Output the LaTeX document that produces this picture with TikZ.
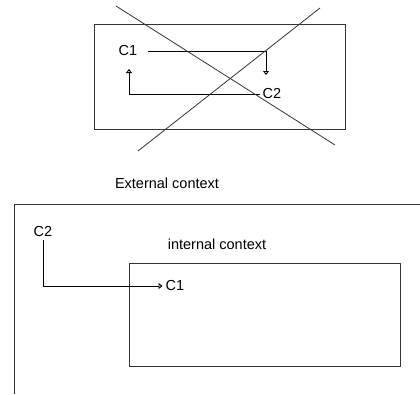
\documentclass[tikz,border=0pt]{standalone}
\usepackage{fontspec}
\setmainfont{Liberation Sans}
\usetikzlibrary{positioning,arrows.meta}

\begin{document}
\begin{tikzpicture}[
    x=1pt, y=-1pt,
    lbl/.style={inner sep=3pt, font=\fontsize{14.5}{16}\selectfont},
    frame/.style={draw=black!80, line width=1pt},
    arr/.style={-{Triangle[open,length=4pt,width=6pt]}, line width=0.9pt},
    cross/.style={draw=black!80, line width=0.8pt}
]
  \useasboundingbox (0,0) rectangle (420,394);

  % context without nesting
  \draw[frame] (94,24) rectangle (345,129);
  \node[lbl] (c1top) at (128,51) {C1};
  \node[lbl] (c2top) at (272,94) {C2};
  \coordinate (downtip) at (266,75);
  \coordinate (uptip) at (129,69);
  \draw[arr] (c1top.east) ++(8,0) -| (downtip);
  \draw[arr] (c2top.west) -| (uptip);
  \draw[cross] (116,6) -- (335,145);
  \draw[cross] (138,151) -- (320,8);

  % nested contexts
  \node[lbl] (ext) at (167,183) {External context};
  \draw[frame] (420,204) -- (14,204) -- (14,394);
  \node[lbl] (int) at (217,244) {internal context};
  \draw[frame] (129,263) rectangle (400,366);
  \node[lbl] (c2bot) at (43,232) {C2};
  \node[lbl] (c1bot) at (175,286) {C1};
  \draw[arr] (c2bot.south) |- (c1bot.west);
\end{tikzpicture}
\end{document}
